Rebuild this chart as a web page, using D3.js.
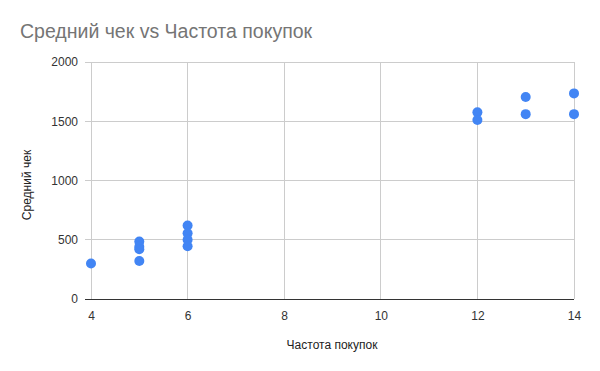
<!DOCTYPE html>
<html><head><meta charset="utf-8">
<script src="https://cdn.jsdelivr.net/npm/d3@7"></script>
<style>body{margin:0;background:#fff}svg{display:block}</style>
</head><body>
<svg id="c" width="600" height="371"></svg>
<script>
const xValues = [4, 5, 5, 5, 5, 6, 6, 6, 6, 12, 12, 13, 13, 14, 14];
const yValues = [300, 485, 440, 420, 320, 620, 555, 500, 445, 1575, 1510, 1705, 1560, 1735, 1560];
const xTicks = [4, 6, 8, 10, 12, 14];
const yTicks = [0, 500, 1000, 1500, 2000];
const title = "Средний чек vs Частота покупок";
const xTitle = "Частота покупок";
const yTitle = "Средний чек";

const svg = d3.select("#c");
const font = "Arial, 'Liberation Sans', sans-serif";
const x = d3.scaleLinear().domain([4, 14]).range([91, 574]);
const y = d3.scaleLinear().domain([0, 2000]).range([299, 62]);

svg.append("rect").attr("width", 600).attr("height", 371).attr("fill", "#fff");

svg.append("text").attr("x", 20).attr("y", 38).text(title)
  .attr("font-family", font).attr("font-size", 19.5).attr("fill", "#757575");

// vertical grid
svg.append("g").selectAll("line").data(xTicks).join("line")
  .attr("x1", d => x(d)).attr("x2", d => x(d)).attr("y1", y(2000)).attr("y2", y(0))
  .attr("stroke", "#cccccc").attr("stroke-width", 1).attr("shape-rendering", "crispEdges");

// y axis labels
const gy = svg.append("g").attr("transform", "translate(85,0)");
gy.call(d3.axisLeft(y).tickValues(yTicks).tickFormat(d3.format("d")).tickSize(0).tickPadding(7));
gy.select(".domain").remove();
gy.selectAll("text").attr("font-family", font).attr("font-size", 12).attr("fill", "#333");
svg.append("g").selectAll("line").data(yTicks.filter(d => d > 0)).join("line")
  .attr("x1", 85).attr("x2", 574).attr("y1", d => y(d)).attr("y2", d => y(d))
  .attr("stroke", "#cccccc").attr("shape-rendering", "crispEdges");

// x axis
const gx = svg.append("g").attr("transform", "translate(0,299)");
gx.call(d3.axisBottom(x).tickValues(xTicks).tickFormat(d3.format("d")).tickSize(0).tickPadding(12));
gx.select(".domain").remove();
gx.selectAll("text").attr("font-family", font).attr("font-size", 12).attr("fill", "#333");
svg.append("line").attr("x1", 85).attr("x2", 574).attr("y1", y(0)).attr("y2", y(0))
  .attr("stroke", "#333").attr("stroke-width", 1).attr("shape-rendering", "crispEdges");

// points
svg.append("g").selectAll("circle").data(xValues.map((d, i) => [d, yValues[i]])).join("circle")
  .attr("cx", d => x(d[0])).attr("cy", d => y(d[1])).attr("r", 5).attr("fill", "#4285F4");

svg.append("text").attr("x", 332).attr("y", 349).attr("text-anchor", "middle").text(xTitle)
  .attr("font-family", font).attr("font-size", 12).attr("fill", "#222");
svg.append("text").attr("transform", "translate(31,185) rotate(-90)").attr("text-anchor", "middle").text(yTitle)
  .attr("font-family", font).attr("font-size", 12).attr("fill", "#222");
</script>
</body></html>
